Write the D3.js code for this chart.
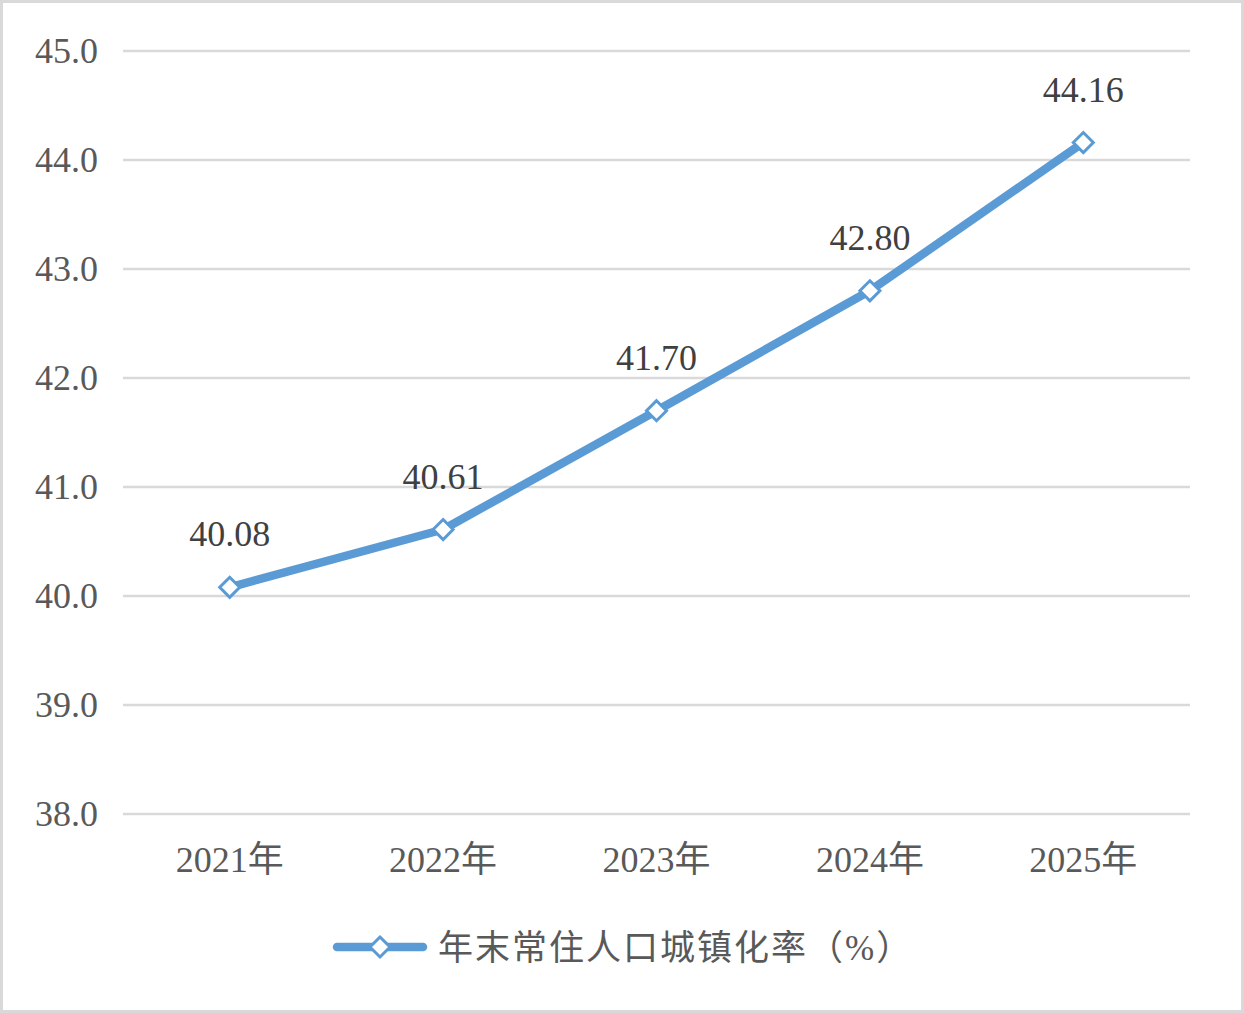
<!DOCTYPE html>
<html><head><meta charset="utf-8">
<script src="https://cdn.jsdelivr.net/npm/d3@7"></script>
<style>
html,body{margin:0;padding:0;background:#fff;}
text{font-family:"Liberation Serif","Noto Sans CJK SC",serif;}
</style></head>
<body>
<svg id="chart" width="1244" height="1013"></svg>
<script>
const categories = ["2021年","2022年","2023年","2024年","2025年"];
const values = [40.08, 40.61, 41.70, 42.80, 44.16];
const valueLabels = ["40.08","40.61","41.70","42.80","44.16"];
const yTicks = [38,39,40,41,42,43,44,45];
const seriesName = "年末常住人口城镇化率（%）";

(function(){
const svg = d3.select("#chart");
const W = 1244, H = 1013;
const color = "#5b9bd5";

svg.append("rect").attr("x",1.5).attr("y",1.5).attr("width",W-3).attr("height",H-3)
  .attr("fill","#fff").attr("stroke","#d9d9d9").attr("stroke-width",3);

const pl = 123, pr = 1190, pt = 51, pb = 814;
const x = d3.scaleBand().domain(categories).range([pl,pr]);
const y = d3.scaleLinear().domain([38,45]).range([pb,pt]);

// gridlines
svg.append("g").selectAll("line").data(yTicks).join("line")
  .attr("x1",pl).attr("x2",pr)
  .attr("y1",d=>y(d)).attr("y2",d=>y(d))
  .attr("stroke","#d9d9d9").attr("stroke-width",2.5);

// y axis labels
const yAxis = d3.axisLeft(y).tickValues(yTicks).tickFormat(d3.format(".1f")).tickSize(0).tickPadding(25);
const ya = svg.append("g").attr("transform",`translate(${pl},0)`).call(yAxis);
ya.select(".domain").remove();
ya.selectAll("text").attr("font-size",36).attr("fill","#595959")
  .attr("font-family",'"Liberation Serif",serif').attr("dy","0.33em");

// x axis labels
const xAxis = d3.axisBottom(x).tickSize(0).tickPadding(0);
const xa = svg.append("g").attr("transform",`translate(0,${pb})`).call(xAxis);
xa.select(".domain").remove();
xa.selectAll("text").attr("font-size",36).attr("fill","#595959")
  .attr("dy",null).attr("y",58);

const cx = d => x(d) + x.bandwidth()/2;
const pts = categories.map((c,i)=>[cx(c), y(values[i])]);

svg.append("path").datum(pts)
  .attr("d", d3.line())
  .attr("fill","none").attr("stroke",color).attr("stroke-width",8.5)
  .attr("stroke-linejoin","round").attr("stroke-linecap","round");

const diamond = r => `M0,${-r}L${r},0L0,${r}L${-r},0Z`;
svg.append("g").selectAll("path").data(pts).join("path")
  .attr("transform",d=>`translate(${d[0]},${d[1]})`)
  .attr("d",diamond(10)).attr("fill","#fff").attr("stroke",color).attr("stroke-width",3);

svg.append("g").selectAll("text").data(pts).join("text")
  .attr("x",d=>d[0]).attr("y",d=>d[1]-41)
  .attr("text-anchor","middle").attr("font-size",36).attr("fill","#404040")
  .text((d,i)=>valueLabels[i]);

// legend
const lg = svg.append("g");
lg.append("line").attr("x1",337).attr("x2",423).attr("y1",947).attr("y2",947)
  .attr("stroke",color).attr("stroke-width",8.5).attr("stroke-linecap","round");
lg.append("path").attr("transform","translate(380,947)").attr("d",diamond(10))
  .attr("fill","#fff").attr("stroke",color).attr("stroke-width",3);
lg.append("text").attr("x",438).attr("y",960).attr("font-size",35)
  .attr("letter-spacing",2)
  .attr("fill","#595959").attr("font-family",'"Noto Sans CJK SC",sans-serif').text(seriesName);
})();
</script>
</body></html>
